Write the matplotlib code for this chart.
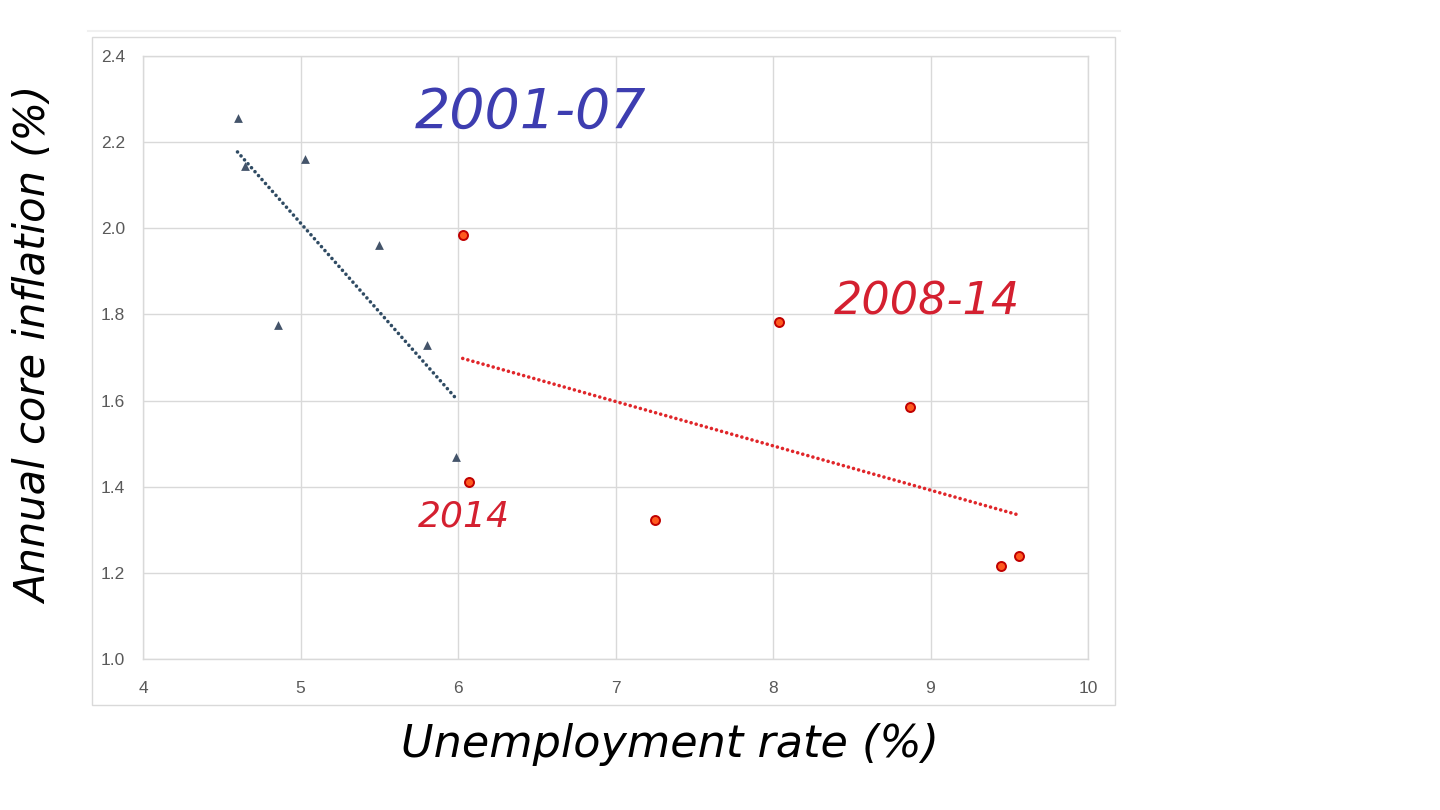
import numpy as np
import matplotlib
matplotlib.use('Agg')
import matplotlib.pyplot as plt
from matplotlib.patches import Rectangle
from matplotlib.lines import Line2D

# 2001-07 (triangles)
unemp_0107 = [4.60, 4.65, 5.03, 5.50, 4.86, 5.80, 5.99]
infl_0107 = [2.256, 2.145, 2.161, 1.961, 1.775, 1.729, 1.469]

# 2008-14 (circles)
unemp_0814 = [6.03, 6.07, 7.25, 8.04, 8.87, 9.45, 9.56]
infl_0814 = [1.984, 1.411, 1.323, 1.782, 1.585, 1.216, 1.239]

x_ticks = [4, 5, 6, 7, 8, 9, 10]
y_ticks = [1.0, 1.2, 1.4, 1.6, 1.8, 2.0, 2.2, 2.4]

grid_col = '#d9d9d9'
tick_col = '#595959'
blue_mark = '#44546a'
blue_trend = '#2f4b63'
red_trend = '#e0262a'

plt.rcParams['font.family'] = ['Liberation Sans', 'DejaVu Sans']

fig = plt.figure(figsize=(14.4, 8.1), dpi=100)
fig.patch.set_facecolor('white')

# chart frame (Excel-like)
fig.add_artist(Rectangle((92 / 1440, 1 - 705 / 810), 1023 / 1440, 668 / 810,
                         transform=fig.transFigure, fill=False,
                         edgecolor=grid_col, linewidth=1))
fig.add_artist(Line2D([88 / 1440, 1120 / 1440], [1 - 31 / 810, 1 - 31 / 810],
                      transform=fig.transFigure, color='#f0f0f0', linewidth=1.5))

ax = fig.add_axes([143 / 1440, 1 - 659 / 810, 945 / 1440, 603 / 810])

# trendlines (linear least squares)
dot_style = dict(linestyle=(0, (0.01, 1.45)), dash_capstyle='round',
                 linewidth=2.6, zorder=2)
for xs, ys, col in [(unemp_0107, infl_0107, blue_trend),
                    (unemp_0814, infl_0814, red_trend)]:
    xs = np.array(xs)
    k, b = np.polyfit(xs, ys, 1)
    xx = np.linspace(xs.min(), xs.max(), 50)
    ax.plot(xx, k * xx + b, color=col, **dot_style)

ax.scatter(unemp_0107, infl_0107, marker='^', s=40, color=blue_mark,
           linewidths=0, zorder=3)
ax.scatter(unemp_0814, infl_0814, marker='o', s=42, facecolor='#ff5a1f',
           edgecolor='#c00000', linewidths=1.4, zorder=3)

ax.set_xlim(4, 10)
ax.set_ylim(1.0, 2.4)
ax.set_xticks(x_ticks)
ax.set_yticks(y_ticks)
ax.set_xticklabels([str(v) for v in x_ticks])
ax.set_yticklabels([f'{v:.1f}' for v in y_ticks])
ax.tick_params(length=0, labelsize=12.5, colors=tick_col)
ax.tick_params(axis='y', pad=13)
ax.tick_params(axis='x', pad=16)
ax.grid(True, color=grid_col, linewidth=1)
ax.set_axisbelow(True)
for s in ax.spines.values():
    s.set_color(grid_col)
    s.set_linewidth(1)

# hand-written style annotations
hand = dict(family=['DejaVu Sans'], fontstyle='italic', fontweight='light')
ax.text(6.46, 2.27, '2001-07', color='#3d3db0', fontsize=40, ha='center',
        va='center', **hand)
ax.text(8.98, 1.83, '2008-14', color='#d42030', fontsize=32, ha='center',
        va='center', **hand)
ax.text(6.04, 1.33, '2014', color='#d42030', fontsize=26, ha='center',
        va='center', **hand)

fig.text(35 / 1440, 1 - 345 / 810, 'Annual core inflation (%)', rotation=90,
         fontsize=30, ha='center', va='center', color='black', **hand)
fig.text(670 / 1440, 1 - 745 / 810, 'Unemployment rate (%)', fontsize=32,
         ha='center', va='center', color='black', **hand)

fig.savefig('out.png', dpi=100)
